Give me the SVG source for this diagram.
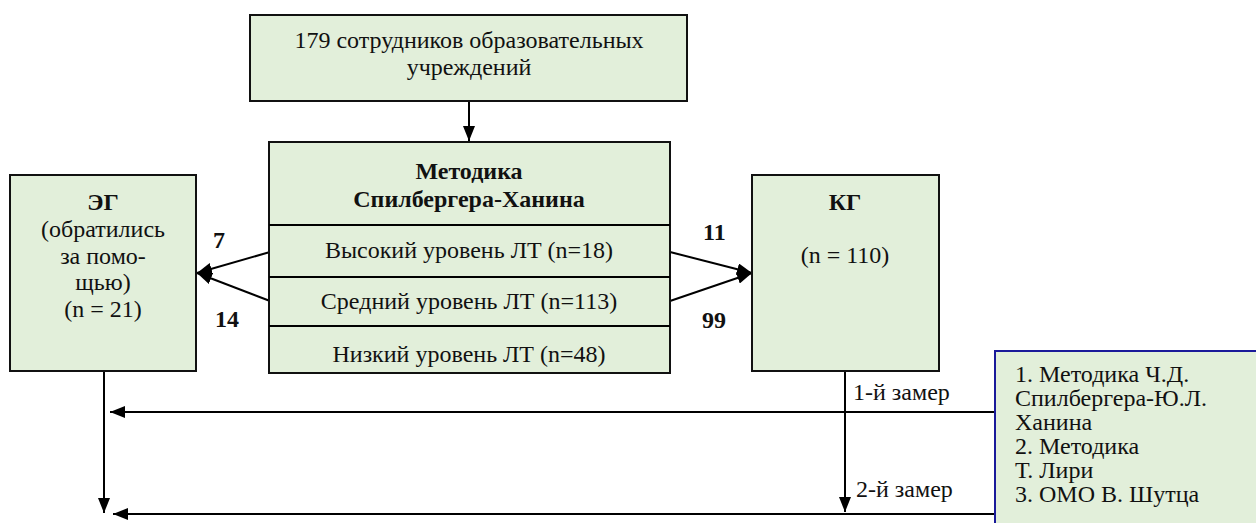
<svg xmlns="http://www.w3.org/2000/svg" width="1256" height="523" viewBox="0 0 1256 523">
<style>
.box{fill:#e2efda;stroke:#111;stroke-width:2}
.t{font-family:"Liberation Serif","Times New Roman",serif;font-size:24px;fill:#111}
.c{text-anchor:middle}
.b{font-weight:bold}
.ln{stroke:#000;stroke-width:2;fill:none}
</style>
<defs>
<marker id="ah" viewBox="0 0 15 12" refX="15" refY="6" markerWidth="15" markerHeight="12" markerUnits="userSpaceOnUse" orient="auto">
<path d="M0,0 L15,6 L0,12 z" fill="#000"/>
</marker>
<clipPath id="lowclip"><rect x="270" y="327" width="399" height="40"/></clipPath>
</defs>
<rect width="1256" height="523" fill="#fff"/>

<g id="connectors">
<line class="ln" x1="469" y1="101" x2="469" y2="141" marker-end="url(#ah)"/>
<line class="ln" x1="270" y1="252" x2="197" y2="273" marker-end="url(#ah)"/>
<line class="ln" x1="270" y1="301" x2="197" y2="273" marker-end="url(#ah)"/>
<line class="ln" x1="670" y1="252" x2="752" y2="273" marker-end="url(#ah)"/>
<line class="ln" x1="670" y1="301" x2="752" y2="273" marker-end="url(#ah)"/>
<line class="ln" x1="104" y1="372" x2="104" y2="513" marker-end="url(#ah)"/>
<line class="ln" x1="845" y1="372" x2="845" y2="512" marker-end="url(#ah)"/>
<line class="ln" x1="995" y1="412" x2="110" y2="412" marker-end="url(#ah)"/>
<line class="ln" x1="995" y1="514" x2="113" y2="514" marker-end="url(#ah)"/>
<text class="t b" x="213" y="248">7</text>
<text class="t b" x="215" y="327">14</text>
<text class="t b" x="703" y="240">11</text>
<text class="t b" x="702" y="328">99</text>
<text class="t" x="853" y="400">1-й замер</text>
<text class="t" x="856" y="497">2-й замер</text>
</g>

<g id="top">
<rect class="box" x="250" y="15" width="437" height="86"/>
<text class="t c" x="469" y="48">179 сотрудников образовательных</text>
<text class="t c" x="469" y="75">учреждений</text>
</g>

<g id="method">
<rect class="box" x="269" y="142" width="401" height="231"/>
<line class="ln" x1="269" y1="225" x2="670" y2="225"/>
<line class="ln" x1="269" y1="277" x2="670" y2="277"/>
<line class="ln" x1="269" y1="326" x2="670" y2="326"/>
<text class="t c b" x="469" y="179">Методика</text>
<text class="t c b" x="469" y="207">Спилбергера-Ханина</text>
<text class="t c" x="469" y="258">Высокий уровень ЛТ (n=18)</text>
<text class="t c" x="469" y="309">Средний уровень ЛТ (n=113)</text>
<text class="t c" x="469" y="362" clip-path="url(#lowclip)">Низкий уровень ЛТ (n=48)</text>
</g>

<g id="eg">
<rect class="box" x="10" y="175" width="186" height="196"/>
<text class="t c b" x="103" y="210">ЭГ</text>
<text class="t c" x="103" y="237">(обратились</text>
<text class="t c" x="103" y="264">за помо-</text>
<text class="t c" x="103" y="290">щью)</text>
<text class="t c" x="103" y="317">(n = 21)</text>
</g>

<g id="kg">
<rect class="box" x="752" y="175" width="187" height="196"/>
<text class="t c b" x="845" y="210">КГ</text>
<text class="t c" x="845" y="263">(n = 110)</text>
</g>

<g id="methods-list">
<rect x="995" y="351" width="280" height="200" fill="#e2efda" stroke="#1a1a9a" stroke-width="2"/>
<text class="t" x="1015" y="382">1. Методика Ч.Д.</text>
<text class="t" x="1015" y="406">Спилбергера-Ю.Л.</text>
<text class="t" x="1015" y="430">Ханина</text>
<text class="t" x="1015" y="454">2. Методика</text>
<text class="t" x="1015" y="478">Т. Лири</text>
<text class="t" x="1015" y="502">3. ОМО В. Шутца</text>
</g>
</svg>
